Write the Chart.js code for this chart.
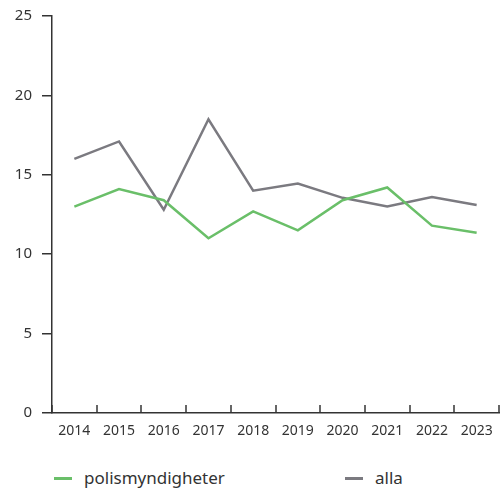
<!DOCTYPE html>
<html>
<head>
<meta charset="utf-8">
<script src="https://cdn.jsdelivr.net/npm/chart.js"></script>
<style>
  body { margin: 0; background: #fff; font-family: 'Noto Sans', sans-serif; }
  #wrap { position: relative; width: 501px; height: 492px; }
  #box { position: absolute; left: 0; top: 0; width: 501px; height: 445px; }
  .leg { position: absolute; top: 466px; font-size: 17px; color: #333; }
  .leg span { display: inline-block; width: 18px; height: 3px; vertical-align: middle; margin-right: 12px; position: relative; top: -1px; }
</style>
</head>
<body>
<div id="wrap">
  <div id="box"><canvas id="chart"></canvas></div>
  <div class="leg" style="left:54px"><span style="background:#6abf69"></span>polismyndigheter</div>
  <div class="leg" style="left:345px"><span style="background:#7b7a80"></span>alla</div>
</div>
<script>
// data
const years = ['2014', '2015', '2016', '2017', '2018', '2019', '2020', '2021', '2022', '2023'];
const polis = [13.0, 14.1, 13.4, 11.0, 12.7, 11.5, 13.4, 14.2, 11.8, 11.35];
const alla = [16.0, 17.1, 12.8, 18.5, 14.0, 14.45, 13.55, 13.0, 13.6, 13.1];
const yTicks = [0, 5, 10, 15, 20, 25];

const axisColor = '#333';

// small tick marks pointing up from the x axis, between categories
const innerTicks = {
  id: 'innerTicks',
  afterDraw(chart) {
    const ctx = chart.ctx;
    const bottom = chart.chartArea.bottom;
    const step = (chart.chartArea.right - chart.chartArea.left) / years.length;
    ctx.save();
    ctx.strokeStyle = axisColor;
    ctx.lineWidth = 1.5;
    for (let i = 0; i <= years.length; i++) {
      const px = Math.round(chart.chartArea.left + i * step);
      ctx.beginPath();
      ctx.moveTo(px, bottom);
      ctx.lineTo(px, bottom - 8);
      ctx.stroke();
    }
    ctx.restore();
  }
};

new Chart(document.getElementById('chart'), {
  type: 'line',
  data: {
    labels: years,
    datasets: [
      { label: 'polismyndigheter', data: polis, borderColor: '#6abf69', borderWidth: 2.5, pointRadius: 0, tension: 0 },
      { label: 'alla', data: alla, borderColor: '#7b7a80', borderWidth: 2.5, pointRadius: 0, tension: 0 }
    ]
  },
  options: {
    responsive: true,
    maintainAspectRatio: false,
    animation: false,
    layout: { padding: { top: 16, right: 2, left: 0, bottom: 0 } },
    plugins: { legend: { display: false }, tooltip: { enabled: false } },
    scales: {
      x: {
        offset: true,
        grid: { display: false },
        border: { display: true, color: axisColor, width: 1.5 },
        ticks: { color: axisColor, font: { family: 'Noto Sans', size: 14 }, padding: 2, maxRotation: 0 },
        afterFit(s) { s.height = 32; }
      },
      y: {
        min: 0,
        max: 25,
        afterBuildTicks(s) { s.ticks = yTicks.map(v => ({ value: v })); },
        grid: { drawOnChartArea: false, tickLength: 10, color: axisColor, lineWidth: 1.5 },
        border: { display: true, color: axisColor, width: 1.5 },
        ticks: { color: axisColor, font: { family: 'Noto Sans', size: 15, lineHeight: 0.8 }, padding: 10 },
        afterFit(s) { s.width = 52; }
      }
    }
  },
  plugins: [innerTicks]
});
</script>
</body>
</html>
